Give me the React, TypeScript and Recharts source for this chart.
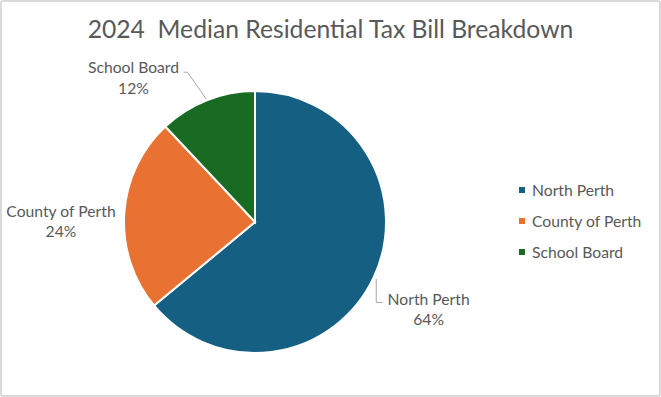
import { PieChart, Pie, Cell, Legend } from 'recharts';

document.body.style.margin = '0';

const categories = ['North Perth', 'County of Perth', 'School Board'];
const shares = [64, 24, 12];

const colors = ['#156082', '#E97132', '#196B24'];
const font = 'Lato, "Open Sans", sans-serif';
const textColor = '#595959';
const labelSize = 15.7;

// where Excel put each data label, relative to the slice's mid angle
const labelSpots = [
  { turn: -1.3, dist: 63, leader: 'elbow' },
  { turn: 3.3, dist: 63, leader: 'none' },
  { turn: 18.4, dist: 58, leader: 'slant' },
];

const data = categories.map((name, i) => ({ name, value: shares[i] }));

const RAD = Math.PI / 180;
function polar(cx: number, cy: number, r: number, angle: number) {
  return { x: cx + Math.cos(-angle * RAD) * r, y: cy + Math.sin(-angle * RAD) * r };
}

function renderLabel(props: any) {
  const { cx, cy, midAngle, outerRadius, percent, index, name } = props;
  const spot = labelSpots[index];
  const c = polar(cx, cy, outerRadius + spot.dist, midAngle + spot.turn);
  let line = null;
  if (spot.leader === 'elbow') {
    const s = polar(cx, cy, outerRadius + 3, midAngle);
    line = (
      <polyline
        points={`${s.x},${s.y} ${s.x},${c.y - 6} ${c.x - 46},${c.y - 6}`}
        fill="none"
        stroke="#a6a6a6"
        strokeWidth={1}
      />
    );
  } else if (spot.leader === 'slant') {
    const s = polar(cx, cy, outerRadius + 1, midAngle);
    line = (
      <polyline
        points={`${s.x},${s.y} ${c.x + 54},${c.y - 5} ${c.x + 50},${c.y - 5}`}
        fill="none"
        stroke="#a6a6a6"
        strokeWidth={1}
      />
    );
  }
  return (
    <g>
      {line}
      <text
        x={c.x}
        y={c.y - 10}
        textAnchor="middle"
        dominantBaseline="central"
        fill={textColor}
        fontSize={labelSize}
        fontFamily={font}
      >
        {name}
      </text>
      <text
        x={c.x}
        y={c.y + 10.5}
        textAnchor="middle"
        dominantBaseline="central"
        fill={textColor}
        fontSize={labelSize}
        fontFamily={font}
      >
        {`${Math.round(percent * 100)}%`}
      </text>
    </g>
  );
}

function LegendList() {
  return (
    <ul style={{ listStyle: 'none', margin: 0, padding: 0, fontFamily: font }}>
      {categories.map((name, i) => (
        <li
          key={name}
          style={{ display: 'flex', alignItems: 'center', height: 31, fontSize: labelSize, color: textColor }}
        >
          <span
            style={{ display: 'inline-block', width: 6, height: 6, background: colors[i], marginRight: 7 }}
          />
          {name}
        </li>
      ))}
    </ul>
  );
}

export default function App() {
  return (
    <div
      style={{
        position: 'relative',
        width: 661,
        height: 397,
        boxSizing: 'border-box',
        border: '2px solid #dadada',
        borderRadius: 3,
        background: '#fff',
        overflow: 'hidden',
      }}
    >
      <div
        style={{
          position: 'absolute',
          top: 12,
          left: 0,
          width: 657,
          textAlign: 'center',
          fontFamily: font,
          fontSize: 24.7,
          color: textColor,
          whiteSpace: 'pre',
        }}
      >
        2024  Median Residential Tax Bill Breakdown
      </div>
      <PieChart width={657} height={393} margin={{ top: 0, right: 0, bottom: 0, left: 0 }} style={{ position: 'absolute', top: 0, left: 0 }}>
        <Pie
          data={data}
          dataKey="value"
          nameKey="name"
          cx={253}
          cy={220}
          outerRadius={131}
          startAngle={90}
          endAngle={-270}
          stroke="#fff"
          strokeWidth={2}
          label={renderLabel}
          labelLine={false}
          isAnimationActive={false}
        >
          {data.map((d, i) => (
            <Cell key={d.name} fill={colors[i]} />
          ))}
        </Pie>
        <Legend
          layout="vertical"
          content={<LegendList />}
          wrapperStyle={{ left: 517, top: 172, width: 140 }}
        />
      </PieChart>
    </div>
  );
}
